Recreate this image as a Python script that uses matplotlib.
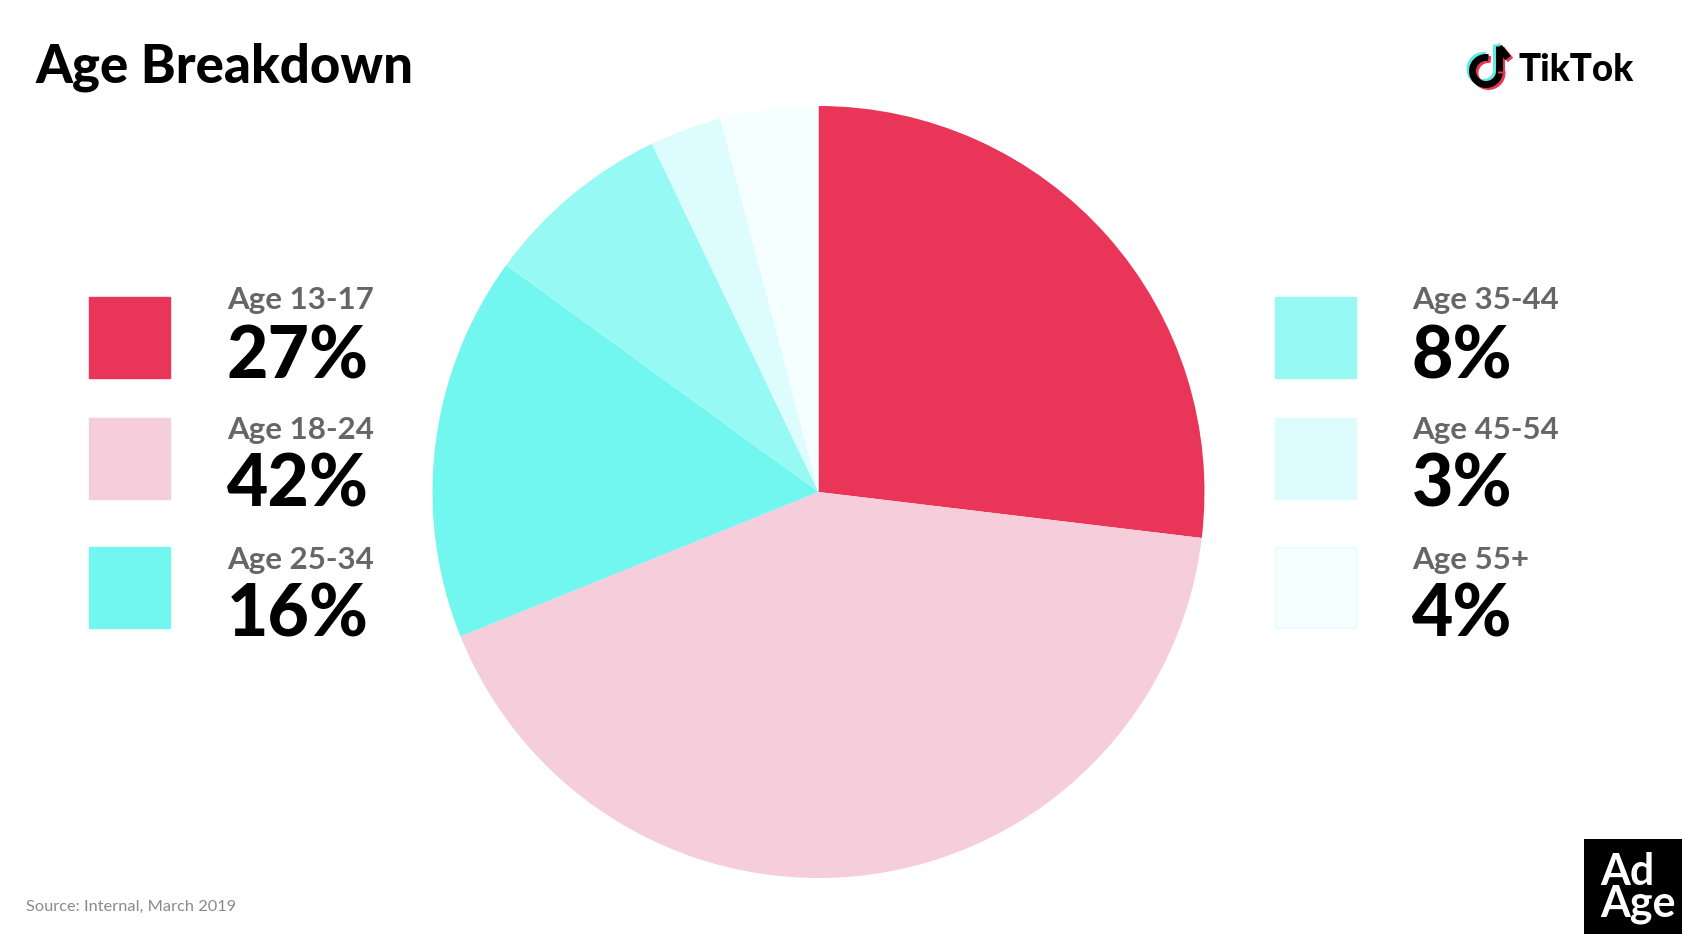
import matplotlib
matplotlib.use("Agg")
import matplotlib.pyplot as plt
from matplotlib.patches import Rectangle, Arc

plt.rcParams['font.family'] = ['Lato', 'DejaVu Sans']

W, H = 1682, 934

ages = ['Age 13-17', 'Age 18-24', 'Age 25-34', 'Age 35-44', 'Age 45-54', 'Age 55+']
labels = ['27%', '42%', '16%', '8%', '3%', '4%']
# slice sizes as drawn in the picture, the printed labels are rounded
slices = [26.9, 42.0, 16.1, 7.9, 3.0, 4.1]
colors = ['#E93558', '#F6CDDB', '#72F6F0', '#97F9F4', '#DDFCFD', '#F5FFFF']
edges = ['#E93558', '#F6CDDB', '#72F6F0', '#97F9F4', '#DDFCFD', '#E2FDFE']

fig = plt.figure(figsize=(W / 100, H / 100), dpi=100, facecolor='white')

# overlay in pixel coordinates of the image
ax = fig.add_axes([0, 0, 1, 1])
ax.set_xlim(0, W)
ax.set_ylim(H, 0)
ax.axis('off')

# pie
cx, cy, r = 818.5, 492, 386
pie_ax = fig.add_axes([(cx - r) / W, 1 - (cy + r) / H, 2 * r / W, 2 * r / H])
pie_ax.pie(slices, colors=colors, startangle=90, counterclock=False, radius=1,
           wedgeprops={'linewidth': 0})
pie_ax.set_xlim(-1, 1)
pie_ax.set_ylim(-1, 1)

ax.text(35, 67, 'Age Breakdown', fontsize=38, fontweight='black', color='black',
        va='center', ha='left')
ax.text(26, 907, 'Source: Internal, March 2019', fontsize=11.8, color='#8a8a8a',
        va='center', ha='left')

# legend blocks
box_x = [89.5, 89.5, 89.5, 1275.5, 1275.5, 1275.5]
text_x = [227, 227, 227, 1412, 1412, 1412]
box_y = [296.5, 417.5, 546.5, 296.5, 417.5, 546.5]
label_y = [300, 430, 560, 300, 430, 560]
value_y = [358, 486, 616, 358, 486, 616]
for i in range(len(ages)):
    ax.add_patch(Rectangle((box_x[i], box_y[i]), 81, 81, facecolor=colors[i],
                           edgecolor=edges[i], lw=1))
    ax.text(text_x[i], label_y[i], ages[i], fontsize=22.5, fontweight='bold', color='#666666',
            va='center', ha='left')
    ax.text(text_x[i], value_y[i], labels[i], fontsize=51.5, fontweight='black',
            color='black', va='center', ha='left')

# TikTok logo: note drawn three times with offset colours
for dx, dy, c in [(-2.5, -2, '#5FE8E4'), (2.5, 2, '#E93558'), (0, 0, 'black')]:
    ax.add_patch(Arc((1486 + dx, 71 + dy), 27, 27, theta1=-10, theta2=280, color=c, lw=5))
    ax.plot([1499 + dx, 1499 + dx], [71 + dy, 46 + dy], color=c, lw=5, solid_capstyle='butt')
    ax.plot([1499 + dx, 1508 + dx], [47 + dy, 58 + dy], color=c, lw=5, solid_capstyle='butt')
ax.text(1519, 70, 'TikTok', fontsize=26.5, fontweight='black', color='black', va='center', ha='left')

# Ad Age badge
ax.add_patch(Rectangle((1584, 839), 98, 95, facecolor='black', edgecolor='none'))
ax.text(1600, 885, 'Ad', fontsize=31, fontweight='bold', color='white', va='baseline', ha='left')
ax.text(1600, 917, 'Age', fontsize=31, fontweight='bold', color='white', va='baseline', ha='left')

fig.savefig('out.png', dpi=100)
